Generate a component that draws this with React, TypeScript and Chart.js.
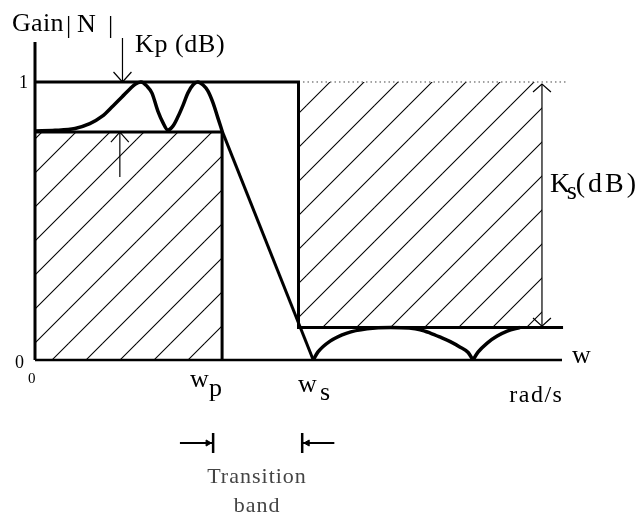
import React, { useEffect, useRef } from "react";
import { Chart, registerables } from "chart.js";

Chart.register(...registerables);

// Filter specification values (normalized frequency units, linear gain)
const wp = 3.55;
const ws = 5.0;
const gainTop = 1.0;
const passLow = 0.82;
const stopLevel = 0.117;
const ksX = 9.62;
const axisEndX = 10.0;
const stopEndX = 10.02;
const dotEndX = 10.1;
const yAxisTop = 1.144;

// Passband ripple curve
const passCurveX = [0, 0.38, 0.76, 1.04, 1.27, 1.48, 1.65, 1.8, 1.9, 2.01, 2.12, 2.22, 2.33, 2.43, 2.52, 2.62, 2.71, 2.81, 2.9, 3.0, 3.09, 3.19, 3.28, 3.38, 3.47, 3.55];
const passCurveY = [0.824, 0.826, 0.833, 0.85, 0.876, 0.914, 0.946, 0.975, 0.992, 1.0, 0.986, 0.96, 0.896, 0.853, 0.827, 0.842, 0.874, 0.917, 0.96, 0.99, 1.0, 0.989, 0.968, 0.924, 0.871, 0.824];

// Transition band (straight fall)
const transitionX = [3.55, 5.28];
const transitionY = [0.824, 0];

// Stopband lobes
const lobe1X = [5.28, 5.37, 5.6, 5.92, 6.3, 6.75, 7.1, 7.31, 7.5, 7.68, 7.88, 8.06, 8.22, 8.31];
const lobe1Y = [0, 0.029, 0.068, 0.097, 0.112, 0.117, 0.115, 0.109, 0.097, 0.083, 0.066, 0.047, 0.027, 0];
const lobe2X = [8.31, 8.41, 8.58, 8.77, 8.96, 9.2];
const lobe2Y = [0, 0.029, 0.061, 0.086, 0.104, 0.117];

// Annotation arrows
const kpDownX = 1.66;
const kpDownTop = 1.158;
const kpUpX = 1.61;
const kpUpBottom = 0.658;
const chevronHalfW = 0.17;
const chevronH = 0.036;
const bandArrowY = -0.2986;
const leftArrowX = [2.75, 3.38];
const rightArrowX = [5.07, 5.68];
const barHalfH = 0.036;

const pts = (xs: number[], ys: number[]) => xs.map((x, i) => ({ x, y: ys[i] }));

type Label = { t: string; x: number; y: number; size: number; ls?: number; color?: string; align?: CanvasTextAlign };
const labels: Label[] = [
  { t: "Gain", x: -0.436, y: 1.183, size: 26, ls: 0.3 },
  { t: "|", x: 0.588, y: 1.176, size: 26 },
  { t: "N", x: 0.797, y: 1.18, size: 26 },
  { t: "|", x: 1.385, y: 1.176, size: 26 },
  { t: "Kp (dB)", x: 1.898, y: 1.108, size: 26, ls: 0.6 },
  { t: "1", x: -0.304, y: 0.978, size: 18 },
  { t: "0", x: -0.38, y: -0.029, size: 18 },
  { t: "0", x: -0.133, y: -0.083, size: 15 },
  { t: "w", x: 2.941, y: -0.097, size: 26 },
  { t: "p", x: 3.302, y: -0.129, size: 26 },
  { t: "w", x: 4.99, y: -0.115, size: 26 },
  { t: "s", x: 5.408, y: -0.144, size: 26 },
  { t: "rad/s", x: 9.0, y: -0.151, size: 24, ls: 1.5 },
  { t: "w", x: 10.19, y: -0.011, size: 26 },
  { t: "K", x: 9.772, y: 0.604, size: 28 },
  { t: "s", x: 10.09, y: 0.579, size: 26 },
  { t: "(dB)", x: 10.26, y: 0.604, size: 28, ls: 3 },
  { t: "Transition", x: 4.213, y: -0.442, size: 22, ls: 1, color: "#444", align: "center" },
  { t: "band", x: 4.213, y: -0.547, size: 22, ls: 1, color: "#444", align: "center" },
];

function makeHatch(): CanvasPattern | string {
  const c = document.createElement("canvas");
  const s = 34;
  c.width = s;
  c.height = s;
  const g = c.getContext("2d");
  if (!g) return "rgba(0,0,0,0)";
  g.strokeStyle = "#000";
  g.lineWidth = 1.1;
  for (const k of [4, 38]) {
    g.beginPath();
    g.moveTo(k + 6, -6);
    g.lineTo(k - 46, 46);
    g.stroke();
  }
  return g.createPattern(c, "repeat") || "rgba(0,0,0,0)";
}

const textPlugin = {
  id: "diagramText",
  afterDatasetsDraw(chart: any) {
    const { ctx, scales } = chart;
    const xs = scales.x;
    const ys = scales.y;
    ctx.save();
    ctx.textBaseline = "alphabetic";
    for (const l of labels) {
      ctx.font = `${l.size}px "Liberation Serif", "Times New Roman", serif`;
      (ctx as any).letterSpacing = `${l.ls || 0}px`;
      ctx.fillStyle = l.color || "#000";
      ctx.textAlign = l.align || "left";
      ctx.fillText(l.t, xs.getPixelForValue(l.x), ys.getPixelForValue(l.y));
    }
    (ctx as any).letterSpacing = "0px";
    ctx.restore();
  },
};

export default function App() {
  const ref = useRef<HTMLCanvasElement>(null);
  useEffect(() => {
    if (!ref.current) return;
    const hatch = makeHatch();
    const line = (data: any[], extra: any = {}) => ({
      data,
      showLine: true,
      borderColor: "#000",
      borderWidth: 3,
      pointRadius: 0,
      fill: false,
      ...extra,
    });
    const chart = new Chart(ref.current, {
      type: "scatter",
      data: {
        datasets: [
          // response curve
          line(pts(passCurveX, passCurveY), { borderWidth: 3.5, cubicInterpolationMode: "monotone" }),
          line(pts(transitionX, transitionY), { borderWidth: 3 }),
          line(pts(lobe1X, lobe1Y), { borderWidth: 3.5, cubicInterpolationMode: "monotone" }),
          line(pts(lobe2X, lobe2Y), { borderWidth: 3.5, cubicInterpolationMode: "monotone" }),
          // spec box: top of passband, ws edge, stopband level
          line([
            { x: 0, y: gainTop },
            { x: ws, y: gainTop },
            { x: ws, y: stopLevel },
            { x: stopEndX, y: stopLevel },
          ], { borderWidth: 3 }),
          // dotted continuation of gain 1
          line([
            { x: ws, y: gainTop },
            { x: dotEndX, y: gainTop },
          ], { borderWidth: 1, borderDash: [1.5, 3], borderColor: "#444" }),
          // axes
          line([{ x: 0, y: 0 }, { x: 0, y: yAxisTop }], { borderWidth: 3 }),
          line([{ x: 0, y: 0 }, { x: axisEndX, y: 0 }], { borderWidth: 2.5 }),
          // Kp arrows
          line([{ x: kpDownX, y: kpDownTop }, { x: kpDownX, y: gainTop }], { borderWidth: 1.2 }),
          line([
            { x: kpDownX - chevronHalfW, y: gainTop + chevronH },
            { x: kpDownX, y: gainTop },
            { x: kpDownX + chevronHalfW, y: gainTop + chevronH },
          ], { borderWidth: 1.2 }),
          line([{ x: kpUpX, y: kpUpBottom }, { x: kpUpX, y: passLow }], { borderWidth: 1.2 }),
          line([
            { x: kpUpX - chevronHalfW, y: passLow - chevronH },
            { x: kpUpX, y: passLow },
            { x: kpUpX + chevronHalfW, y: passLow - chevronH },
          ], { borderWidth: 1.2 }),
          // Ks arrow
          line([{ x: ksX, y: gainTop - 0.007 }, { x: ksX, y: stopLevel + 0.005 }], { borderWidth: 1.2 }),
          line([
            { x: ksX - chevronHalfW, y: gainTop - 0.036 },
            { x: ksX, y: gainTop - 0.007 },
            { x: ksX + chevronHalfW, y: gainTop - 0.036 },
          ], { borderWidth: 1.2 }),
          line([
            { x: ksX - chevronHalfW, y: stopLevel + 0.034 },
            { x: ksX, y: stopLevel + 0.005 },
            { x: ksX + chevronHalfW, y: stopLevel + 0.034 },
          ], { borderWidth: 1.2 }),
          // transition band arrows
          line([{ x: leftArrowX[0], y: bandArrowY }, { x: leftArrowX[1], y: bandArrowY }], { borderWidth: 2 }),
          line([{ x: leftArrowX[1], y: bandArrowY - barHalfH }, { x: leftArrowX[1], y: bandArrowY + barHalfH }], { borderWidth: 2.5 }),
          line([{ x: rightArrowX[0], y: bandArrowY }, { x: rightArrowX[1], y: bandArrowY }], { borderWidth: 2 }),
          line([{ x: rightArrowX[0], y: bandArrowY - barHalfH }, { x: rightArrowX[0], y: bandArrowY + barHalfH }], { borderWidth: 2.5 }),
          {
            data: [
              { x: leftArrowX[1] - 0.1, y: bandArrowY },
              { x: rightArrowX[0] + 0.1, y: bandArrowY },
            ],
            showLine: false,
            pointStyle: "triangle",
            pointRotation: [90, -90],
            pointRadius: 3.5,
            pointBackgroundColor: "#000",
            pointBorderColor: "#000",
            pointBorderWidth: 1,
          },
          // hatched forbidden regions
          line([
            { x: 0, y: passLow },
            { x: wp, y: passLow },
            { x: wp, y: 0 },
          ], { borderWidth: 3, fill: "origin", backgroundColor: hatch }),
          line([
            { x: ws, y: gainTop },
            { x: ksX, y: gainTop },
          ], { borderWidth: 0, fill: { value: stopLevel }, backgroundColor: hatch }),
        ] as any,
      },
      options: {
        animation: false,
        responsive: true,
        maintainAspectRatio: false,
        layout: { padding: 0, autoPadding: false },
        events: [],
        plugins: {
          legend: { display: false },
          tooltip: { enabled: false },
          title: { display: false },
        },
        scales: {
          x: { type: "linear", display: false, min: -0.66414, max: 11.4991 },
          y: { type: "linear", display: false, min: -0.56115, max: 1.29496 },
        },
      },
      plugins: [textPlugin],
    });
    return () => chart.destroy();
  }, []);

  return (
    <div style={{ position: "fixed", left: 0, top: 0, width: 641, height: 516, background: "#fff" }}>
      <canvas ref={ref} />
    </div>
  );
}
